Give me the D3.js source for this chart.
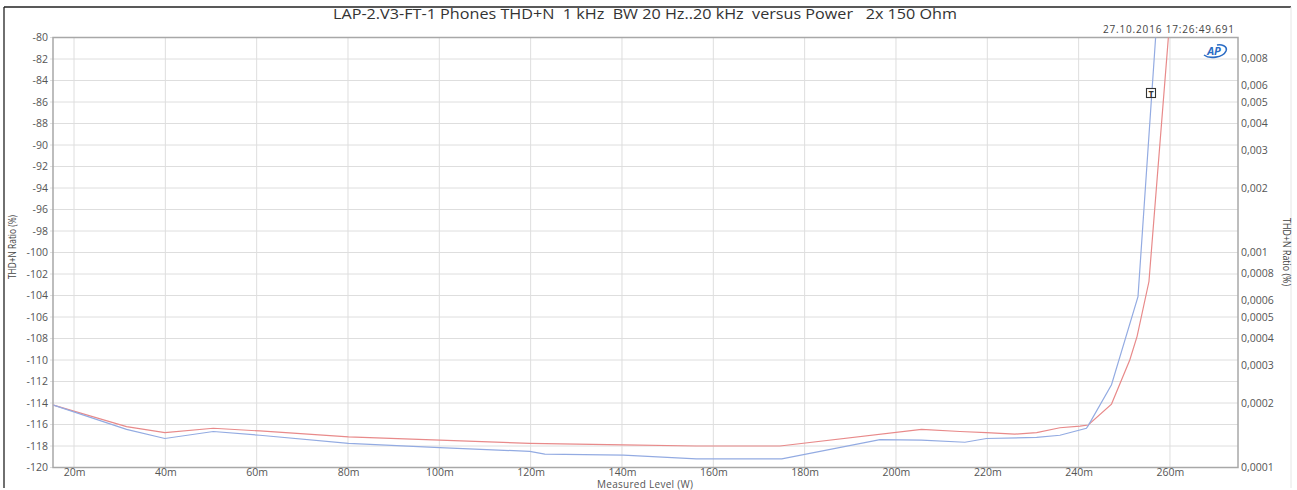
<!DOCTYPE html>
<html><head><meta charset="utf-8">
<script src="https://cdn.jsdelivr.net/npm/d3@7"></script>
<style>
html,body{margin:0;padding:0;background:#fff;}
svg{display:block;}
text{font-family:"Open Sans","DejaVu Sans",sans-serif;}
</style></head>
<body>
<svg id="chart" width="1297" height="490"></svg>
<script>
// ---- data ----
const titleText = "LAP-2.V3-FT-1 Phones THD+N  1 kHz  BW 20 Hz..20 kHz  versus Power   2x 150 Ohm";
const timestamp = "27.10.2016 17:26:49.691";
const xTicks = [20,40,60,80,100,120,140,160,180,200,220,240,260]; // mW
const yTicksLeft = [-80,-82,-84,-86,-88,-90,-92,-94,-96,-98,-100,-102,-104,-106,-108,-110,-112,-114,-116,-118,-120];
const yTicksRight = [0.008,0.006,0.005,0.004,0.003,0.002,0.001,0.0008,0.0006,0.0005,0.0004,0.0003,0.0002,0.0001];
// level in mW, THD+N in dB
const blueLevel = [15.5,31.5,39.9,50.5,60.7,80.1,100.1,119.8,123.1,140.3,156.3,175.0,196.5,205.6,215.1,219.8,230.8,235.9,241.7,242.1,247.2,253.0,257.5];
const blueDb    = [-114.2,-116.45,-117.3,-116.65,-117.0,-117.75,-118.15,-118.5,-118.75,-118.85,-119.2,-119.2,-117.4,-117.45,-117.65,-117.3,-117.2,-117.0,-116.35,-116.1,-112.3,-104.1,-76];
const redLevel  = [15.5,31.5,39.9,50.5,60.7,80.1,100.1,119.8,140.3,156.3,174.6,205.6,214.0,219.8,226.0,230.8,235.9,240.3,242.1,247.2,251.2,252.8,255.4,260.4];
const redDb     = [-114.2,-116.2,-116.75,-116.35,-116.6,-117.15,-117.45,-117.75,-117.9,-118.0,-118.0,-116.45,-116.65,-116.75,-116.9,-116.75,-116.3,-116.15,-116.05,-114.1,-110.0,-107.8,-102.7,-76];

// ---- layout ----
const L = 53, R = 1238, T = 37.5, B = 467.5;
const svg = d3.select("#chart");
const x = d3.scaleLinear().domain([15.4, 274.9]).range([L, R]);
const y = d3.scaleLinear().domain([-120, -80]).range([B, T]);
const yR = d3.scaleLog().domain([0.0001, 0.01]).range([B, T]);

// outer frame
svg.append("line").attr("x1",4).attr("y1",7).attr("x2",1291).attr("y2",7).attr("stroke","#222").attr("stroke-width",1.3);
svg.append("line").attr("x1",4).attr("y1",7).attr("x2",4).attr("y2",488).attr("stroke","#222").attr("stroke-width",1.3);
svg.append("line").attr("x1",1291).attr("y1",7).attr("x2",1291).attr("y2",488).attr("stroke","#e6e6e6");

// grid
const g = svg.append("g");
g.selectAll(".hg").data(yTicksLeft).join("line")
  .attr("x1",L-3).attr("x2",R).attr("y1",d=>y(d)).attr("y2",d=>y(d))
  .attr("stroke","#dedede").attr("stroke-width",1);
g.selectAll(".vg").data(xTicks).join("line")
  .attr("x1",d=>x(d)).attr("x2",d=>x(d)).attr("y1",T).attr("y2",B)
  .attr("stroke","#dedede").attr("stroke-width",1);

// plot frame
svg.append("rect").attr("x",L).attr("y",T).attr("width",R-L).attr("height",B-T)
  .attr("fill","none").attr("stroke","#a8a8a8").attr("stroke-width",1.5);

// axes (labels via d3 axes, domain/ticks hidden)
const axL = d3.axisLeft(y).tickValues(yTicksLeft).tickSize(0).tickPadding(5).tickFormat(d=>String(d));
const gl = svg.append("g").attr("transform",`translate(${L},0)`).call(axL);
const axB = d3.axisBottom(x).tickValues(xTicks).tickSize(0).tickPadding(1).tickFormat(d=>d+"m");
const gb = svg.append("g").attr("transform",`translate(0,${B})`).call(axB);
const axR = d3.axisRight(yR).tickValues(yTicksRight).tickSize(0).tickPadding(3).tickFormat(d=>String(d).replace(".",","));
const gr = svg.append("g").attr("transform",`translate(${R},0)`).call(axR);
[gl,gb,gr].forEach(a=>{
  a.select(".domain").remove();
  a.selectAll("text").attr("fill","#555").attr("font-size",10.5).attr("font-family",'"Open Sans","DejaVu Sans",sans-serif');
});
gb.selectAll("text").attr("font-size",10.5).attr("font-family","Liberation Sans, Arial, sans-serif");

// clip
svg.append("clipPath").attr("id","clip").append("rect").attr("x",L).attr("y",T).attr("width",R-L).attr("height",B-T);

const line = d3.line().x(d=>x(d[0])).y(d=>y(d[1]));
const blue = blueLevel.map((v,i)=>[v,blueDb[i]]);
const red = redLevel.map((v,i)=>[v,redDb[i]]);
const pg = svg.append("g").attr("clip-path","url(#clip)");
pg.append("path").datum(red).attr("d",line).attr("fill","none").attr("stroke","#e88a8a").attr("stroke-width",1.2);
pg.append("path").datum(blue).attr("d",line).attr("fill","none").attr("stroke","#93abe2").attr("stroke-width",1.2);

// cursor marker "T"
const mk = svg.append("g").attr("transform","translate(1151,93)");
mk.append("rect").attr("x",-4.5).attr("y",-4.5).attr("width",9).attr("height",9).attr("fill","#fff").attr("stroke","#333").attr("stroke-width",1.1);
mk.append("text").attr("x",0).attr("y",3.5).attr("text-anchor","middle").attr("font-size",9).attr("font-weight","bold").attr("fill","#333").attr("font-family","DejaVu Sans, sans-serif").text("T");

// AP logo
const ap = svg.append("g").attr("transform","translate(1215,51)");
ap.append("path").attr("d","M-11,4 C-6,8 8,7 11,0 C13,-5 6,-7 2,-6").attr("fill","none").attr("stroke","#2b6cc4").attr("stroke-width",1.6);
ap.append("text").attr("x",-1).attr("y",4).attr("text-anchor","middle").attr("font-size",11).attr("font-style","italic").attr("font-weight","bold").attr("fill","#2b6cc4").attr("font-family","Liberation Sans, sans-serif").text("AP");

// title
svg.append("text").attr("x",645).attr("y",18.5).attr("text-anchor","middle")
  .attr("font-family","Liberation Sans, Arial, sans-serif").attr("font-size",14).attr("fill","#333")
  .style("white-space","pre").attr("textLength",624).attr("lengthAdjust","spacingAndGlyphs").text(titleText);
svg.append("text").attr("x",1234).attr("y",33).attr("text-anchor","end")
  .attr("font-size",10).attr("fill","#444").attr("textLength",131).attr("lengthAdjust","spacing").text(timestamp);

// axis titles
svg.append("text").attr("x",645).attr("y",487.8).attr("text-anchor","middle")
  .attr("font-family","Liberation Sans, Arial, sans-serif")
  .attr("font-size",10).attr("fill","#555").attr("textLength",96).attr("lengthAdjust","spacing").text("Measured Level (W)");
svg.append("text").attr("transform","translate(16,247) rotate(-90)").attr("text-anchor","middle")
  .attr("font-family","Liberation Sans Narrow, Liberation Sans, sans-serif").attr("font-size",10).attr("fill","#444")
  .attr("textLength",64).attr("lengthAdjust","spacingAndGlyphs").text("THD+N Ratio (%)");
svg.append("text").attr("transform","translate(1283,252) rotate(90)").attr("text-anchor","middle")
  .attr("font-family","Liberation Sans Narrow, Liberation Sans, sans-serif").attr("font-size",10).attr("fill","#444")
  .attr("textLength",68).attr("lengthAdjust","spacingAndGlyphs").text("THD+N Ratio (%)");
</script>
</body></html>
